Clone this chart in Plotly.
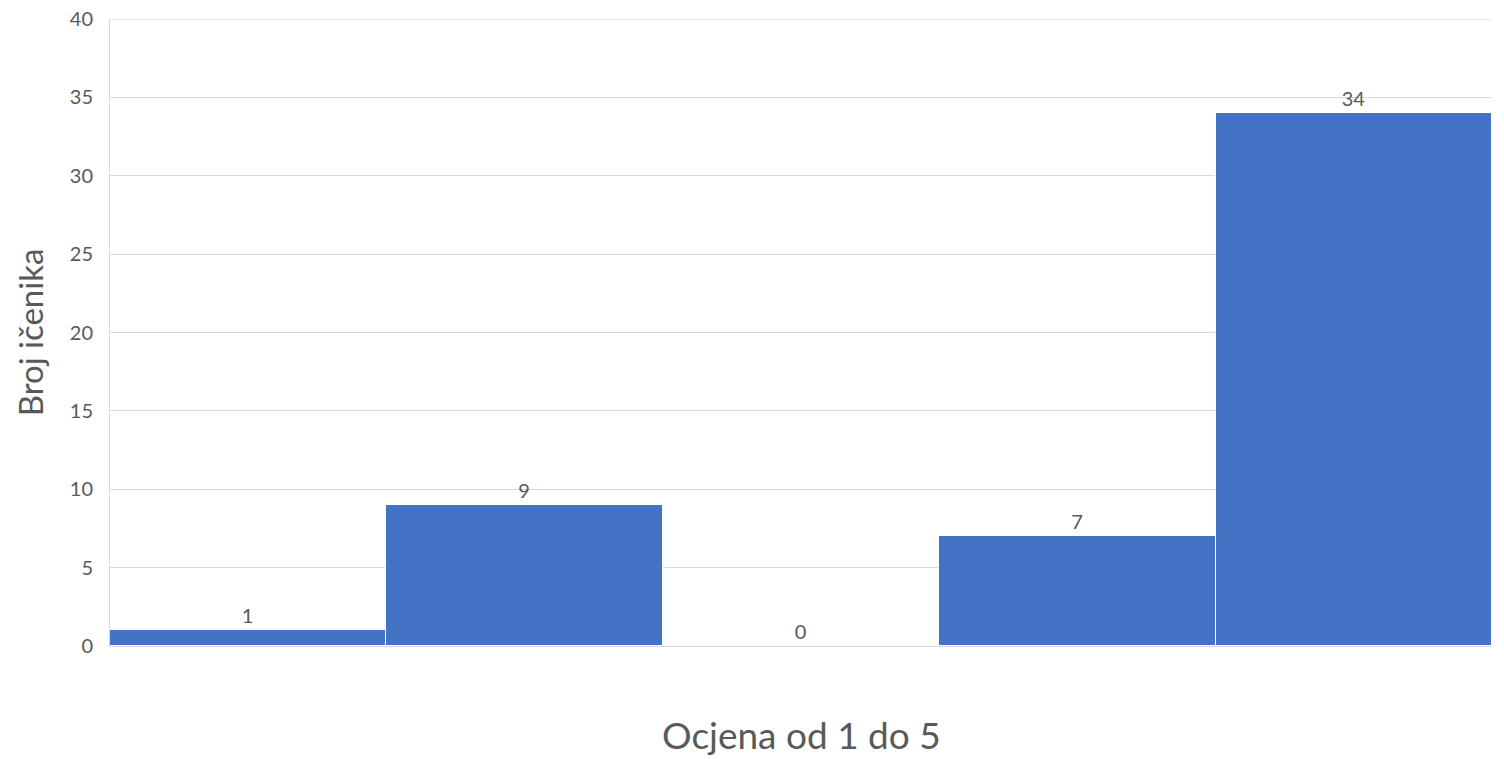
import plotly.graph_objects as go

grades = [1, 2, 3, 4, 5]
counts = [1, 9, 0, 7, 34]
y_ticks = [0, 5, 10, 15, 20, 25, 30, 35, 40]
x_title = "Ocjena od 1 do 5"
y_title = "Broj ičenika"

FONT = "Lato, Open Sans, sans-serif"
GREY = "#595959"
GRID = "#D9D9D9"

fig = go.Figure(
    go.Bar(
        x=grades,
        y=counts,
        text=[str(c) for c in counts],
        textposition="outside",
        cliponaxis=False,
        textfont=dict(family=FONT, size=20, color=GREY),
        marker=dict(color="#4472C4", line=dict(color="#FFFFFF", width=1)),
        hoverinfo="skip",
    )
)

fig.update_layout(
    width=1504,
    height=759,
    margin=dict(l=110, r=12, t=19, b=113, autoexpand=False),
    paper_bgcolor="white",
    plot_bgcolor="white",
    bargap=0,
    showlegend=False,
    font=dict(family=FONT, color=GREY),
)

# top gridline (plotly omits the grid line at the range edge)
fig.add_shape(
    type="line", xref="paper", x0=0, x1=1, yref="y", y0=y_ticks[-1], y1=y_ticks[-1],
    line=dict(color=GRID, width=1), layer="below",
)

# x-axis title as an annotation for exact placement
fig.add_annotation(
    text=x_title, xref="paper", yref="paper", x=0.5, y=0,
    xanchor="center", yanchor="middle", yshift=-88, showarrow=False,
    font=dict(family=FONT, size=37, color=GREY),
)

fig.update_xaxes(
    range=[0.5, 5.5],
    showticklabels=False,
    ticks="",
    showgrid=False,
    showline=True,
    linecolor=GRID,
    linewidth=1,
    zeroline=False,
    automargin=False,
)

fig.update_yaxes(
    range=[0, 40],
    tickvals=y_ticks,
    ticktext=[str(v) for v in y_ticks],
    tickfont=dict(size=20, color=GREY),
    ticklabeloverflow="allow",
    ticks="outside",
    ticklen=12,
    tickcolor="rgba(0,0,0,0)",
    showgrid=True,
    gridcolor=GRID,
    gridwidth=1,
    showline=True,
    linecolor=GRID,
    linewidth=1,
    zeroline=False,
    automargin=False,
    title=dict(text=y_title, font=dict(size=33, color=GREY), standoff=16),
)

fig.write_html(
    "out.html",
    config={"displayModeBar": False},
    post_script="document.body.style.margin='0';document.body.style.overflow='hidden';",
)
